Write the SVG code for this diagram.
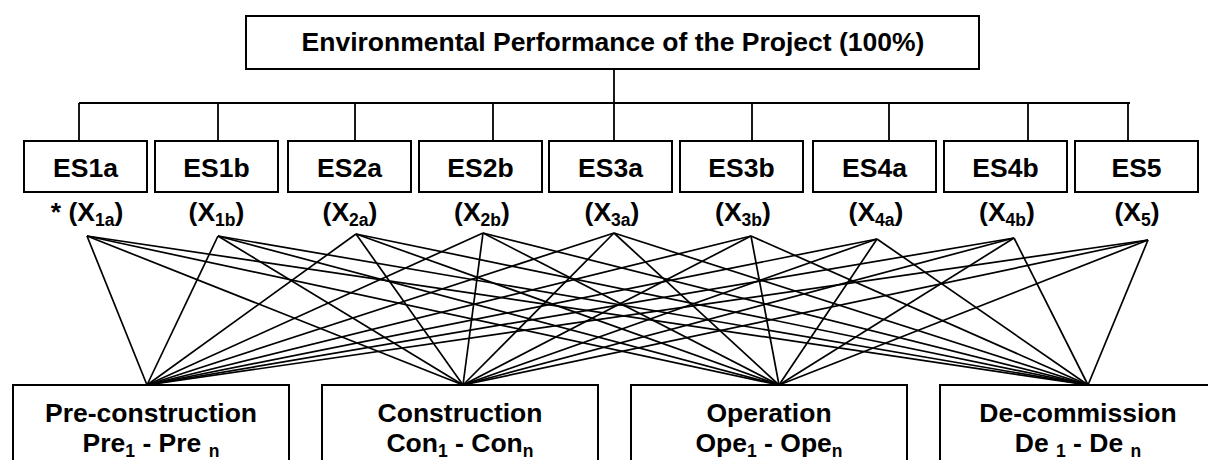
<svg xmlns="http://www.w3.org/2000/svg" width="1208" height="460" viewBox="0 0 1208 460">
<style>
.box{fill:#fff;stroke:#000;stroke-width:2}
.t{font-family:"Liberation Sans",Arial,sans-serif;font-weight:bold;font-size:26.5px;fill:#000;text-anchor:middle}
.s{font-size:17.5px}
.bus{stroke:#000;stroke-width:1.8;fill:none}
.c line{stroke:#000;stroke-width:1.7}
</style>
<rect width="1208" height="460" fill="#fff"/>
<g id="tree" class="bus">
<line x1="614" y1="69" x2="614" y2="103"/>
<line x1="79" y1="103" x2="1130" y2="103"/>
<line x1="79" y1="103" x2="79" y2="141"/>
<line x1="218" y1="103" x2="218" y2="141"/>
<line x1="355" y1="103" x2="355" y2="141"/>
<line x1="493" y1="103" x2="493" y2="141"/>
<line x1="614" y1="103" x2="614" y2="141"/>
<line x1="752" y1="103" x2="752" y2="141"/>
<line x1="889" y1="103" x2="889" y2="141"/>
<line x1="1028" y1="103" x2="1028" y2="141"/>
<line x1="1128" y1="103" x2="1128" y2="141"/>
</g>
<g id="top"><rect class="box" x="246" y="16" width="733" height="53"/><text class="t" x="613" y="51">Environmental Performance of the Project (100%)</text></g>
<g id="es1a"><rect class="box" x="24" y="141" width="123" height="51"/><text class="t" x="85.5" y="177">ES1a</text><text class="t" x="87" y="221">* (X<tspan class="s" dy="5">1a</tspan><tspan dy="-5">)</tspan></text></g>
<g id="es1b"><rect class="box" x="155" y="141" width="123" height="51"/><text class="t" x="216.5" y="177">ES1b</text><text class="t" x="216.5" y="221">(X<tspan class="s" dy="5">1b</tspan><tspan dy="-5">)</tspan></text></g>
<g id="es2a"><rect class="box" x="288" y="141" width="123" height="51"/><text class="t" x="349.5" y="177">ES2a</text><text class="t" x="350" y="221">(X<tspan class="s" dy="5">2a</tspan><tspan dy="-5">)</tspan></text></g>
<g id="es2b"><rect class="box" x="419" y="141" width="123" height="51"/><text class="t" x="480.5" y="177">ES2b</text><text class="t" x="482" y="221">(X<tspan class="s" dy="5">2b</tspan><tspan dy="-5">)</tspan></text></g>
<g id="es3a"><rect class="box" x="549" y="141" width="123" height="51"/><text class="t" x="610.5" y="177">ES3a</text><text class="t" x="612" y="221">(X<tspan class="s" dy="5">3a</tspan><tspan dy="-5">)</tspan></text></g>
<g id="es3b"><rect class="box" x="680" y="141" width="123" height="51"/><text class="t" x="741.5" y="177">ES3b</text><text class="t" x="743" y="221">(X<tspan class="s" dy="5">3b</tspan><tspan dy="-5">)</tspan></text></g>
<g id="es4a"><rect class="box" x="813" y="141" width="123" height="51"/><text class="t" x="874.5" y="177">ES4a</text><text class="t" x="876" y="221">(X<tspan class="s" dy="5">4a</tspan><tspan dy="-5">)</tspan></text></g>
<g id="es4b"><rect class="box" x="944" y="141" width="123" height="51"/><text class="t" x="1005.5" y="177">ES4b</text><text class="t" x="1007" y="221">(X<tspan class="s" dy="5">4b</tspan><tspan dy="-5">)</tspan></text></g>
<g id="es5"><rect class="box" x="1075" y="141" width="123" height="51"/><text class="t" x="1136.5" y="177">ES5</text><text class="t" x="1137" y="221">(X<tspan class="s" dy="5">5</tspan><tspan dy="-5">)</tspan></text></g>
<g id="connectors" class="c">
<line x1="87" y1="236" x2="147" y2="385"/><line x1="87" y1="236" x2="463" y2="385"/><line x1="87" y1="236" x2="779" y2="385"/><line x1="87" y1="236" x2="1088" y2="385"/>
<line x1="218" y1="236" x2="147" y2="385"/><line x1="218" y1="236" x2="463" y2="385"/><line x1="218" y1="236" x2="779" y2="385"/><line x1="218" y1="236" x2="1088" y2="385"/>
<line x1="356" y1="234" x2="147" y2="385"/><line x1="356" y1="234" x2="463" y2="385"/><line x1="356" y1="234" x2="779" y2="385"/><line x1="356" y1="234" x2="1088" y2="385"/>
<line x1="483" y1="233" x2="147" y2="385"/><line x1="483" y1="233" x2="463" y2="385"/><line x1="483" y1="233" x2="779" y2="385"/><line x1="483" y1="233" x2="1088" y2="385"/>
<line x1="614" y1="233" x2="147" y2="385"/><line x1="614" y1="233" x2="463" y2="385"/><line x1="614" y1="233" x2="779" y2="385"/><line x1="614" y1="233" x2="1088" y2="385"/>
<line x1="751" y1="236" x2="147" y2="385"/><line x1="751" y1="236" x2="463" y2="385"/><line x1="751" y1="236" x2="779" y2="385"/><line x1="751" y1="236" x2="1088" y2="385"/>
<line x1="877" y1="239" x2="147" y2="385"/><line x1="877" y1="239" x2="463" y2="385"/><line x1="877" y1="239" x2="779" y2="385"/><line x1="877" y1="239" x2="1088" y2="385"/>
<line x1="1014" y1="238" x2="147" y2="385"/><line x1="1014" y1="238" x2="463" y2="385"/><line x1="1014" y1="238" x2="779" y2="385"/><line x1="1014" y1="238" x2="1088" y2="385"/>
<line x1="1148" y1="240" x2="147" y2="385"/><line x1="1148" y1="240" x2="463" y2="385"/><line x1="1148" y1="240" x2="779" y2="385"/><line x1="1148" y1="240" x2="1088" y2="385"/>
</g>
<g id="pre"><rect class="box" x="13" y="385" width="276" height="90"/><text class="t" x="151" y="422">Pre-construction</text><text class="t" x="151" y="452">Pre<tspan class="s" dy="5">1</tspan><tspan dy="-5"> - Pre </tspan><tspan class="s" dy="5">n</tspan></text></g>
<g id="con"><rect class="box" x="322" y="385" width="276" height="90"/><text class="t" x="460" y="422">Construction</text><text class="t" x="460" y="452">Con<tspan class="s" dy="5">1</tspan><tspan dy="-5"> - Con</tspan><tspan class="s" dy="5">n</tspan></text></g>
<g id="ope"><rect class="box" x="631" y="385" width="276" height="90"/><text class="t" x="769" y="422">Operation</text><text class="t" x="769" y="452">Ope<tspan class="s" dy="5">1</tspan><tspan dy="-5"> - Ope</tspan><tspan class="s" dy="5">n</tspan></text></g>
<g id="de"><rect class="box" x="940" y="385" width="276" height="90"/><text class="t" x="1078" y="422">De-commission</text><text class="t" x="1078" y="452">De <tspan class="s" dy="5">1</tspan><tspan dy="-5"> - De </tspan><tspan class="s" dy="5">n</tspan></text></g>
</svg>
